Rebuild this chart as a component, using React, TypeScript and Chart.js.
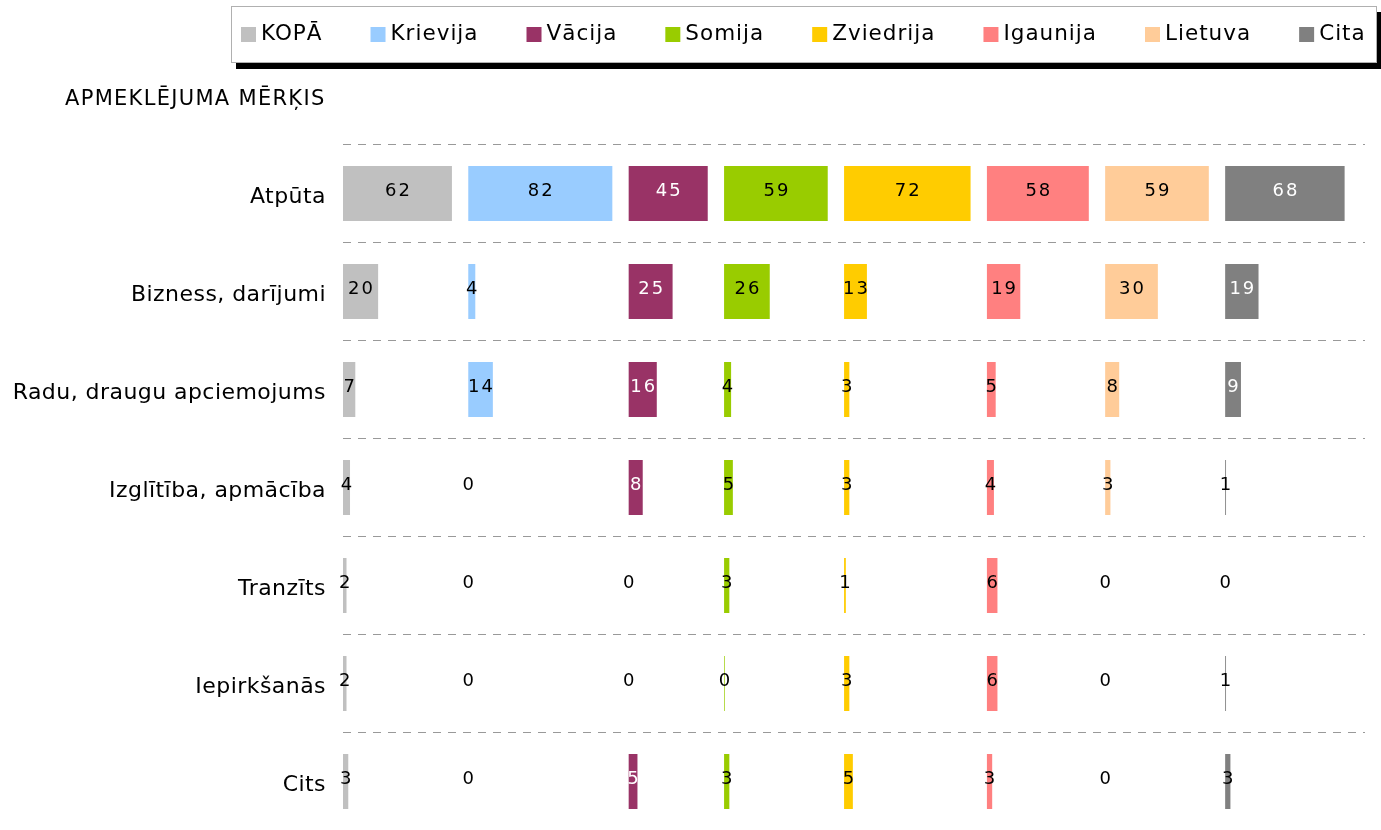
import React, { useEffect, useRef } from "react";
import { Chart, registerables } from "chart.js";

Chart.register(...registerables);

// ---- data ----
const categories = [
  "Atpūta",
  "Bizness, darījumi",
  "Radu, draugu apciemojums",
  "Izglītība, apmācība",
  "Tranzīts",
  "Iepirkšanās",
  "Cits",
];
const seriesNames = ["KOPĀ", "Krievija", "Vācija", "Somija", "Zviedrija", "Igaunija", "Lietuva", "Cita"];
const kopa = [62, 20, 7, 4, 2, 2, 3];
const krievija = [82, 4, 14, 0, 0, 0, 0];
const vacija = [45, 25, 16, 8, 0, 0, 5];
const somija = [59, 26, 4, 5, 3, 0.4, 3];
const zviedrija = [72, 13, 3, 3, 1, 3, 5];
const igaunija = [58, 19, 5, 4, 6, 6, 3];
const lietuva = [59, 30, 8, 3, 0, 0, 0];
const cita = [68, 19, 9, 0.5, 0, 0.5, 3];
const chartTitle = "APMEKLĒJUMA MĒRĶIS";

const seriesValues = [kopa, krievija, vacija, somija, zviedrija, igaunija, lietuva, cita];

// ---- styles ----
const colors = ["#C0C0C0", "#99CCFF", "#993366", "#99CC00", "#FFCC00", "#FF8080", "#FFCC99", "#808080"];
const darkSeries = [false, false, true, false, false, false, false, true];
const FONT = "'DejaVu Sans', Verdana, sans-serif";
const GAP = 9.3; // spacing between country panels (axis units)
const TAIL = 2.3;

const W = 1381;
const H = 850;

export default function App() {
  const ref = useRef<HTMLCanvasElement | null>(null);

  useEffect(() => {
    const canvas = ref.current;
    if (!canvas) return;

    const maxima = seriesValues.map((s) => Math.max(...s));
    const starts: number[] = [];
    let acc = 0;
    maxima.forEach((m) => {
      starts.push(acc);
      acc += m + GAP;
    });
    const xMax = acc + TAIL;

    const datasets = seriesValues.map((vals, i) => ({
      label: seriesNames[i],
      data: vals.map((v) => [starts[i], starts[i] + v]),
      backgroundColor: colors[i],
      borderWidth: 0,
      grouped: false,
      categoryPercentage: 1,
      barPercentage: 0.56,
    }));

    const spacingPlugin = {
      id: "tickSpacing",
      beforeDraw(chart: any) {
        (chart.ctx as any).letterSpacing = "0.45px";
      },
    };

    const labelPlugin = {
      id: "valueLabels",
      afterDatasetsDraw(chart: any) {
        const ctx = chart.ctx as CanvasRenderingContext2D;
        ctx.save();
        ctx.font = `18px ${FONT}`;
        (ctx as any).letterSpacing = "2px";
        ctx.textAlign = "center";
        ctx.textBaseline = "middle";
        chart.data.datasets.forEach((_: any, di: number) => {
          const meta = chart.getDatasetMeta(di);
          meta.data.forEach((el: any, j: number) => {
            const v = seriesValues[di][j];
            const cx = (el.x + el.base) / 2;
            const txt = String(Math.round(v));
            ctx.fillStyle = darkSeries[di] && v >= 4 ? "#FFFFFF" : "#000000";
            ctx.fillText(txt, cx + 1, el.y - 2);
          });
        });
        ctx.restore();
      },
    };

    const decorPlugin = {
      id: "decor",
      afterDraw(chart: any) {
        const ctx = chart.ctx as CanvasRenderingContext2D;
        ctx.save();
        // legend shadow
        ctx.fillStyle = "#000000";
        ctx.fillRect(236, 12, 1150, 57);
        // legend box
        ctx.fillStyle = "#FFFFFF";
        ctx.fillRect(231, 6, 1146, 57);
        ctx.strokeStyle = "#B0B0B0";
        ctx.lineWidth = 1;
        ctx.strokeRect(231.5, 6.5, 1145, 56);
        // legend items
        ctx.font = `21.5px ${FONT}`;
        (ctx as any).letterSpacing = "1px";
        ctx.textBaseline = "middle";
        ctx.textAlign = "left";
        let x = 241;
        seriesNames.forEach((name, i) => {
          ctx.fillStyle = colors[i];
          ctx.fillRect(x, 27, 15, 15);
          ctx.fillStyle = "#000000";
          ctx.fillText(name, x + 20, 34);
          x += 20 + ctx.measureText(name).width + 48;
        });
        // title
        ctx.font = `21px ${FONT}`;
        (ctx as any).letterSpacing = "1.3px";
        ctx.textBaseline = "alphabetic";
        ctx.fillStyle = "#000000";
        ctx.fillText(chartTitle, 65, 105);
        ctx.restore();
      },
    };

    const chart = new Chart(canvas, {
      type: "bar",
      data: { labels: categories, datasets: datasets as any },
      options: {
        indexAxis: "y",
        responsive: false,
        animation: false,
        devicePixelRatio: 1,
        layout: { padding: { top: 144.5, bottom: H - 830.5, right: 16, left: 0 } },
        plugins: {
          legend: { display: false },
          tooltip: { enabled: false },
          title: { display: false },
        },
        scales: {
          x: {
            type: "linear",
            display: false,
            min: 0,
            max: xMax,
          },
          y: {
            type: "category",
            offset: true,
            grid: {
              display: true,
              color: "#999999",
              lineWidth: 1,
              drawTicks: false,
              offset: true,
            },
            border: { display: false, dash: [8, 7] },
            ticks: {
              color: "#000000",
              padding: 17,
              labelOffset: 4,
              font: { family: FONT, size: 22 },
            },
            afterFit(scale: any) {
              scale.width = 343;
              scale.paddingTop = 0;
              scale.paddingBottom = 0;
            },
          },
        },
      } as any,
      plugins: [spacingPlugin, labelPlugin, decorPlugin],
    });

    return () => chart.destroy();
  }, []);

  return (
    <div
      style={{
        position: "fixed",
        left: 0,
        top: 0,
        width: W,
        height: 830,
        overflow: "hidden",
        background: "#FFFFFF",
      }}
    >
      <canvas ref={ref} width={W} height={H} style={{ width: W, height: H, display: "block" }} />
    </div>
  );
}
